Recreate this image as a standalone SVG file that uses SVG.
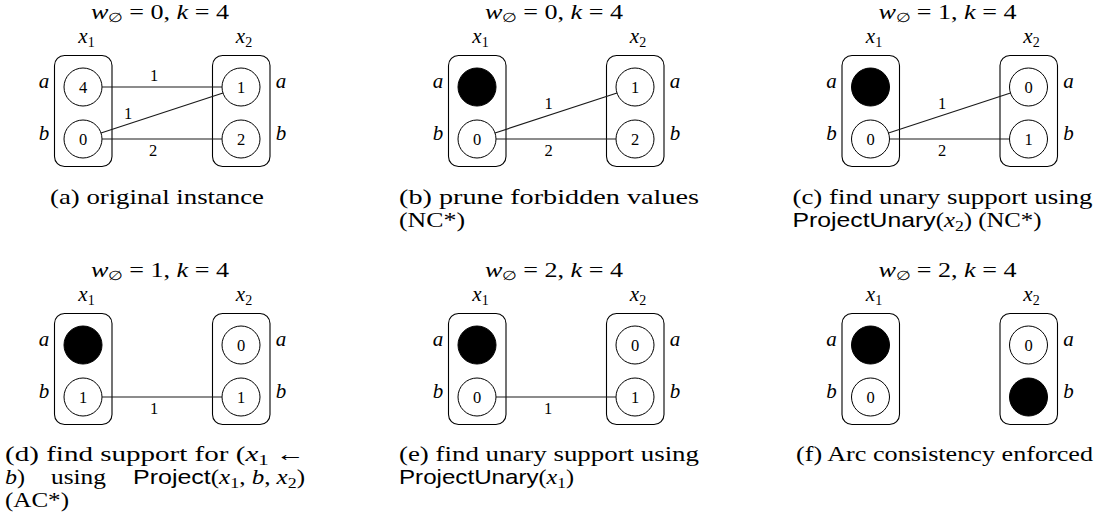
<svg xmlns="http://www.w3.org/2000/svg" width="1101" height="531" viewBox="0 0 1101 531">
<style>
text{font-family:"Liberation Serif","Times New Roman",serif;fill:#000}
.i{font-style:italic}
.sf{font-family:"Liberation Sans",Arial,sans-serif;font-style:normal}
.title{font-size:20px;text-anchor:middle}
.var{font-size:21px;text-anchor:middle}
.side{font-size:21px;text-anchor:middle;font-style:italic}
.dig{font-size:16.5px;text-anchor:middle}
.el{font-size:16.5px;text-anchor:middle}
.cap{font-size:21px}
.box{fill:none;stroke:#000;stroke-width:1.1}
.val{fill:#fff;stroke:#000;stroke-width:1}
.pr{fill:#000;stroke:#000;stroke-width:1}
.edge{stroke:#1a1a1a;stroke-width:1.2;fill:none}
</style>

<!-- ===== Panel (a) ===== -->
<g id="panel-a">
  <text class="title" x="160" y="18.5" textLength="138" lengthAdjust="spacingAndGlyphs"><tspan class="i">w</tspan><tspan font-size="13" dy="3">∅</tspan><tspan dy="-3"> = 0, </tspan><tspan class="i">k</tspan> = 4</text>
  <g id="a-x1">
    <text class="var" x="86.5" y="43"><tspan class="i">x</tspan><tspan font-size="14" dy="4">1</tspan></text>
    <rect class="box" x="54.5" y="55.5" width="57.5" height="111" rx="10"/>
    <circle class="val" cx="83" cy="87" r="19"/><text class="dig" x="83" y="92.5">4</text>
    <circle class="val" cx="83" cy="139" r="19"/><text class="dig" x="83" y="144.5">0</text>
    <text class="side" x="44" y="88">a</text><text class="side" x="44" y="140">b</text>
  </g>
  <g id="a-x2">
    <text class="var" x="244" y="43"><tspan class="i">x</tspan><tspan font-size="14" dy="4">2</tspan></text>
    <rect class="box" x="212.5" y="55.5" width="57.5" height="111" rx="10"/>
    <circle class="val" cx="241" cy="87" r="19"/><text class="dig" x="241" y="92.5">1</text>
    <circle class="val" cx="241" cy="139" r="19"/><text class="dig" x="241" y="144.5">2</text>
    <text class="side" x="281" y="88">a</text><text class="side" x="281" y="140">b</text>
  </g>
  <g id="a-edges">
    <line class="edge" x1="102" y1="87" x2="222" y2="87"/>
    <line class="edge" x1="101" y1="133" x2="223" y2="93"/>
    <line class="edge" x1="102" y1="139" x2="222" y2="139"/>
    <text class="el" x="154" y="81">1</text>
    <text class="el" x="128" y="119">1</text>
    <text class="el" x="153" y="156">2</text>
  </g>
  <text class="cap" x="157" y="204" text-anchor="middle" textLength="214" lengthAdjust="spacingAndGlyphs">(a) original instance</text>
</g>

<!-- ===== Panel (b) ===== -->
<g id="panel-b" transform="translate(394,0)">
  <text class="title" x="160" y="18.5" textLength="138" lengthAdjust="spacingAndGlyphs"><tspan class="i">w</tspan><tspan font-size="13" dy="3">∅</tspan><tspan dy="-3"> = 0, </tspan><tspan class="i">k</tspan> = 4</text>
  <g id="b-x1">
    <text class="var" x="86.5" y="43"><tspan class="i">x</tspan><tspan font-size="14" dy="4">1</tspan></text>
    <rect class="box" x="54.5" y="55.5" width="57.5" height="111" rx="10"/>
    <circle class="pr" cx="83" cy="87" r="19"/>
    <circle class="val" cx="83" cy="139" r="19"/><text class="dig" x="83" y="144.5">0</text>
    <text class="side" x="44" y="88">a</text><text class="side" x="44" y="140">b</text>
  </g>
  <g id="b-x2">
    <text class="var" x="244" y="43"><tspan class="i">x</tspan><tspan font-size="14" dy="4">2</tspan></text>
    <rect class="box" x="212.5" y="55.5" width="57.5" height="111" rx="10"/>
    <circle class="val" cx="241" cy="87" r="19"/><text class="dig" x="241" y="92.5">1</text>
    <circle class="val" cx="241" cy="139" r="19"/><text class="dig" x="241" y="144.5">2</text>
    <text class="side" x="281" y="88">a</text><text class="side" x="281" y="140">b</text>
  </g>
  <g id="b-edges">
    <line class="edge" x1="101" y1="133" x2="223" y2="93"/>
    <line class="edge" x1="102" y1="139" x2="222" y2="139"/>
    <text class="el" x="154.5" y="108.5">1</text>
    <text class="el" x="154.5" y="155.5">2</text>
  </g>
  <text class="cap" x="5" y="204" textLength="300" lengthAdjust="spacingAndGlyphs">(b) prune forbidden values</text>
  <text class="cap" x="5" y="227" textLength="66" lengthAdjust="spacingAndGlyphs">(NC*)</text>
</g>

<!-- ===== Panel (c) ===== -->
<g id="panel-c" transform="translate(787.5,0)">
  <text class="title" x="160" y="18.5" textLength="138" lengthAdjust="spacingAndGlyphs"><tspan class="i">w</tspan><tspan font-size="13" dy="3">∅</tspan><tspan dy="-3"> = 1, </tspan><tspan class="i">k</tspan> = 4</text>
  <g id="c-x1">
    <text class="var" x="86.5" y="43"><tspan class="i">x</tspan><tspan font-size="14" dy="4">1</tspan></text>
    <rect class="box" x="54.5" y="55.5" width="57.5" height="111" rx="10"/>
    <circle class="pr" cx="83" cy="87" r="19"/>
    <circle class="val" cx="83" cy="139" r="19"/><text class="dig" x="83" y="144.5">0</text>
    <text class="side" x="44" y="88">a</text><text class="side" x="44" y="140">b</text>
  </g>
  <g id="c-x2">
    <text class="var" x="244" y="43"><tspan class="i">x</tspan><tspan font-size="14" dy="4">2</tspan></text>
    <rect class="box" x="212.5" y="55.5" width="57.5" height="111" rx="10"/>
    <circle class="val" cx="241" cy="87" r="19"/><text class="dig" x="241" y="92.5">0</text>
    <circle class="val" cx="241" cy="139" r="19"/><text class="dig" x="241" y="144.5">1</text>
    <text class="side" x="281" y="88">a</text><text class="side" x="281" y="140">b</text>
  </g>
  <g id="c-edges">
    <line class="edge" x1="101" y1="133" x2="223" y2="93"/>
    <line class="edge" x1="102" y1="139" x2="222" y2="139"/>
    <text class="el" x="154.5" y="108.5">1</text>
    <text class="el" x="154.5" y="155.5">2</text>
  </g>
  <text class="cap" x="5" y="204" textLength="300" lengthAdjust="spacingAndGlyphs">(c) find unary support using</text>
  <text class="cap" x="5" y="227" textLength="249" lengthAdjust="spacingAndGlyphs"><tspan class="sf">ProjectUnary</tspan>(<tspan class="i">x</tspan><tspan font-size="15" dy="4">2</tspan><tspan dy="-4">) (NC*)</tspan></text>
</g>

<!-- ===== Panel (d) ===== -->
<g id="panel-d" transform="translate(0,258)">
  <text class="title" x="160" y="18.5" textLength="138" lengthAdjust="spacingAndGlyphs"><tspan class="i">w</tspan><tspan font-size="13" dy="3">∅</tspan><tspan dy="-3"> = 1, </tspan><tspan class="i">k</tspan> = 4</text>
  <g id="d-x1">
    <text class="var" x="86.5" y="43"><tspan class="i">x</tspan><tspan font-size="14" dy="4">1</tspan></text>
    <rect class="box" x="54.5" y="55.5" width="57.5" height="111" rx="10"/>
    <circle class="pr" cx="83" cy="87" r="19"/>
    <circle class="val" cx="83" cy="139" r="19"/><text class="dig" x="83" y="144.5">1</text>
    <text class="side" x="44" y="88">a</text><text class="side" x="44" y="140">b</text>
  </g>
  <g id="d-x2">
    <text class="var" x="244" y="43"><tspan class="i">x</tspan><tspan font-size="14" dy="4">2</tspan></text>
    <rect class="box" x="212.5" y="55.5" width="57.5" height="111" rx="10"/>
    <circle class="val" cx="241" cy="87" r="19"/><text class="dig" x="241" y="92.5">0</text>
    <circle class="val" cx="241" cy="139" r="19"/><text class="dig" x="241" y="144.5">1</text>
    <text class="side" x="281" y="88">a</text><text class="side" x="281" y="140">b</text>
  </g>
  <g id="d-edges">
    <line class="edge" x1="102" y1="139" x2="222" y2="139"/>
    <text class="el" x="154" y="156">1</text>
  </g>
  <text class="cap" x="5" y="203" textLength="300" lengthAdjust="spacingAndGlyphs">(d) find support for (<tspan class="i">x</tspan><tspan font-size="15" dy="4">1</tspan><tspan dy="-4"> ←</tspan></text>
  <text class="cap" x="5" y="226" textLength="20" lengthAdjust="spacingAndGlyphs"><tspan class="i">b</tspan>)</text>
  <text class="cap" x="51" y="226" textLength="55" lengthAdjust="spacingAndGlyphs">using</text>
  <text class="cap" x="133" y="226" textLength="172" lengthAdjust="spacingAndGlyphs"><tspan class="sf">Project</tspan>(<tspan class="i">x</tspan><tspan font-size="15" dy="4">1</tspan><tspan dy="-4">, </tspan><tspan class="i">b</tspan>, <tspan class="i">x</tspan><tspan font-size="15" dy="4">2</tspan><tspan dy="-4">)</tspan></text>
  <text class="cap" x="5" y="249" textLength="64" lengthAdjust="spacingAndGlyphs">(AC*)</text>
</g>

<!-- ===== Panel (e) ===== -->
<g id="panel-e" transform="translate(394,258)">
  <text class="title" x="160" y="18.5" textLength="138" lengthAdjust="spacingAndGlyphs"><tspan class="i">w</tspan><tspan font-size="13" dy="3">∅</tspan><tspan dy="-3"> = 2, </tspan><tspan class="i">k</tspan> = 4</text>
  <g id="e-x1">
    <text class="var" x="86.5" y="43"><tspan class="i">x</tspan><tspan font-size="14" dy="4">1</tspan></text>
    <rect class="box" x="54.5" y="55.5" width="57.5" height="111" rx="10"/>
    <circle class="pr" cx="83" cy="87" r="19"/>
    <circle class="val" cx="83" cy="139" r="19"/><text class="dig" x="83" y="144.5">0</text>
    <text class="side" x="44" y="88">a</text><text class="side" x="44" y="140">b</text>
  </g>
  <g id="e-x2">
    <text class="var" x="244" y="43"><tspan class="i">x</tspan><tspan font-size="14" dy="4">2</tspan></text>
    <rect class="box" x="212.5" y="55.5" width="57.5" height="111" rx="10"/>
    <circle class="val" cx="241" cy="87" r="19"/><text class="dig" x="241" y="92.5">0</text>
    <circle class="val" cx="241" cy="139" r="19"/><text class="dig" x="241" y="144.5">1</text>
    <text class="side" x="281" y="88">a</text><text class="side" x="281" y="140">b</text>
  </g>
  <g id="e-edges">
    <line class="edge" x1="102" y1="139" x2="222" y2="139"/>
    <text class="el" x="154" y="156">1</text>
  </g>
  <text class="cap" x="5" y="203" textLength="300" lengthAdjust="spacingAndGlyphs">(e) find unary support using</text>
  <text class="cap" x="5" y="226" textLength="175" lengthAdjust="spacingAndGlyphs"><tspan class="sf">ProjectUnary</tspan>(<tspan class="i">x</tspan><tspan font-size="15" dy="4">1</tspan><tspan dy="-4">)</tspan></text>
</g>

<!-- ===== Panel (f) ===== -->
<g id="panel-f" transform="translate(787.5,258)">
  <text class="title" x="160" y="18.5" textLength="138" lengthAdjust="spacingAndGlyphs"><tspan class="i">w</tspan><tspan font-size="13" dy="3">∅</tspan><tspan dy="-3"> = 2, </tspan><tspan class="i">k</tspan> = 4</text>
  <g id="f-x1">
    <text class="var" x="86.5" y="43"><tspan class="i">x</tspan><tspan font-size="14" dy="4">1</tspan></text>
    <rect class="box" x="54.5" y="55.5" width="57.5" height="111" rx="10"/>
    <circle class="pr" cx="83" cy="87" r="19"/>
    <circle class="val" cx="83" cy="139" r="19"/><text class="dig" x="83" y="144.5">0</text>
    <text class="side" x="44" y="88">a</text><text class="side" x="44" y="140">b</text>
  </g>
  <g id="f-x2">
    <text class="var" x="244" y="43"><tspan class="i">x</tspan><tspan font-size="14" dy="4">2</tspan></text>
    <rect class="box" x="212.5" y="55.5" width="57.5" height="111" rx="10"/>
    <circle class="val" cx="241" cy="87" r="19"/><text class="dig" x="241" y="92.5">0</text>
    <circle class="pr" cx="241" cy="139" r="19"/>
    <text class="side" x="281" y="88">a</text><text class="side" x="281" y="140">b</text>
  </g>
  <g id="f-edges"/>
  <text class="cap" x="157" y="203" text-anchor="middle" textLength="297" lengthAdjust="spacingAndGlyphs">(f) Arc consistency enforced</text>
</g>
</svg>
